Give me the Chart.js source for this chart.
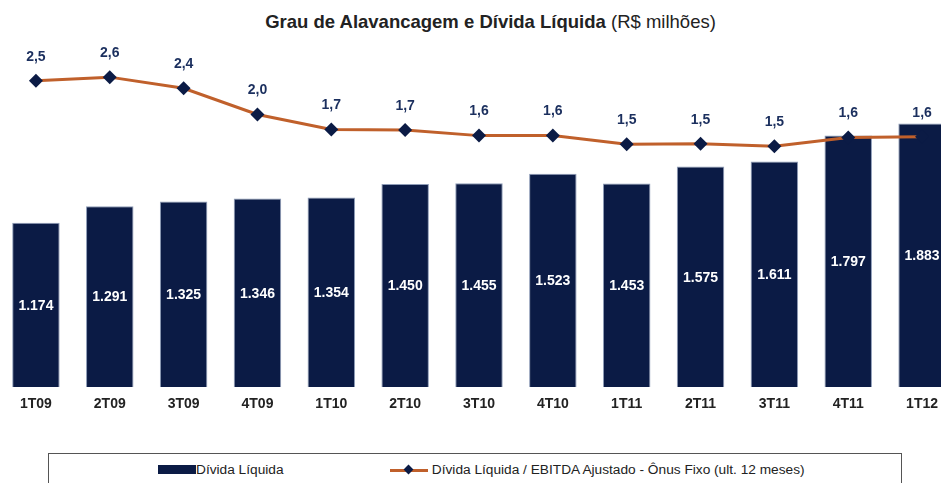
<!DOCTYPE html>
<html>
<head>
<meta charset="utf-8">
<script src="https://cdn.jsdelivr.net/npm/chart.js@4.4.1/dist/chart.umd.min.js"></script>
<style>
  html, body { margin: 0; padding: 0; background: #fff; overflow: hidden; }
  body { width: 941px; height: 483px; position: relative; font-family: "Liberation Sans", Arial, sans-serif; }
  #title { position: absolute; left: 20px; top: 11px; width: 941px; text-align: center; font-size: 18.5px; color: #222; }
  #title b { font-weight: bold; }
  #chart { position: absolute; left: -1px; top: 0; }
  #legend { position: absolute; left: 48px; top: 453px; width: 854px; height: 40px; border: 1.5px solid #555; box-sizing: border-box; }
  .item { position: absolute; top: 8px; font-size: 13.7px; color: #222; white-space: nowrap; }
  .swatch { display: inline-block; width: 38px; height: 9px; background: #0b1b45; vertical-align: 0px; }
  .lineSw { display: inline-block; position: relative; width: 38px; height: 10px; vertical-align: -1px; }
  .lineSw::before { content: ""; position: absolute; left: 0; right: 0; top: 4px; height: 3px; background: #c0602b; }
  .lineSw::after { content: ""; position: absolute; left: 15px; top: 1px; width: 7px; height: 7px; background: #0b1b45; transform: rotate(45deg); }
</style>
</head>
<body>
<div id="title"><b>Grau de Alavancagem e Dívida Líquida</b> (R$ milhões)</div>
<canvas id="chart" width="960" height="421"></canvas>
<div id="legend">
  <div class="item" style="left:109px"><span class="swatch"></span>Dívida Líquida</div>
  <div class="item" style="left:341px"><span class="lineSw"></span> Dívida Líquida / EBITDA Ajustado - Ônus Fixo (ult. 12 meses)</div>
</div>
<script>
const categories = ["1T09", "2T09", "3T09", "4T09", "1T10", "2T10", "3T10", "4T10", "1T11", "2T11", "3T11", "4T11", "1T12"];
const netDebt = [1174, 1291, 1325, 1346, 1354, 1450, 1455, 1523, 1453, 1575, 1611, 1797, 1883];
const leverage = [2.52, 2.58, 2.40, 1.98, 1.74, 1.73, 1.64, 1.64, 1.50, 1.51, 1.47, 1.61, 1.62];

const navy = "#0b1b45";
const labelNavy = "#1b2f5e";
const orange = "#c0602b";

function fmtThousands(v) {
    return String(v).replace(/\B(?=(\d{3})+(?!\d))/g, ".");
}

function fmtRatio(v) {
    return v.toFixed(1).replace(".", ",");
}

// value labels: centered inside bars, above the line points
const valueLabels = {
    id: "valueLabels",
    afterDatasetsDraw(chart) {
        const ctx = chart.ctx;
        ctx.save();
        ctx.textAlign = "center";
        ctx.textBaseline = "middle";
        ctx.font = "bold 14px 'Liberation Sans', Arial, sans-serif";

        const barMeta = chart.getDatasetMeta(1);
        ctx.fillStyle = "#ffffff";
        barMeta.data.forEach((bar, i) => {
            const mid = (bar.y + bar.base) / 2;
            ctx.fillText(fmtThousands(netDebt[i]), bar.x, mid + 1);
        });

        const lineMeta = chart.getDatasetMeta(0);
        ctx.fillStyle = labelNavy;
        lineMeta.data.forEach((pt, i) => {
            ctx.fillText(fmtRatio(leverage[i]), pt.x, pt.y - 24);
        });
        ctx.restore();
    }
};

new Chart(document.getElementById("chart"), {
    data: {
        labels: categories,
        datasets: [{
            type: "line",
            label: "Dívida Líquida / EBITDA Ajustado - Ônus Fixo (ult. 12 meses)",
            data: leverage,
            yAxisID: "yRatio",
            borderColor: orange,
            borderWidth: 3,
            pointStyle: "rectRot",
            pointRadius: 7,
            pointBackgroundColor: navy,
            pointBorderColor: navy,
            pointBorderWidth: 0,
            tension: 0,
            order: 0
        }, {
            type: "bar",
            label: "Dívida Líquida",
            data: netDebt,
            yAxisID: "yDebt",
            backgroundColor: navy,
            borderColor: "rgba(130, 145, 175, 0.9)",
            borderWidth: 1,
            barPercentage: 0.643,
            categoryPercentage: 1,
            order: 1
        }]
    },
    options: {
        responsive: false,
        animation: false,
        layout: { autoPadding: false, padding: { top: 51, left: 0, right: 0, bottom: 0 } },
        plugins: {
            legend: { display: false },
            title: { display: false },
            tooltip: { enabled: false }
        },
        scales: {
            x: {
                grid: { display: false },
                border: { display: false },
                ticks: {
                    padding: 1,
                    color: "#222",
                    font: { family: "'Liberation Sans', Arial, sans-serif", size: 14, weight: "bold" }
                },
                afterFit(scale) { scale.height = 34; }
            },
            yDebt: { display: false, min: 0, max: 2400 },
            yRatio: { display: false, min: -2.4, max: 3.0 }
        }
    },
    plugins: [valueLabels]
});
</script>
</body>
</html>
